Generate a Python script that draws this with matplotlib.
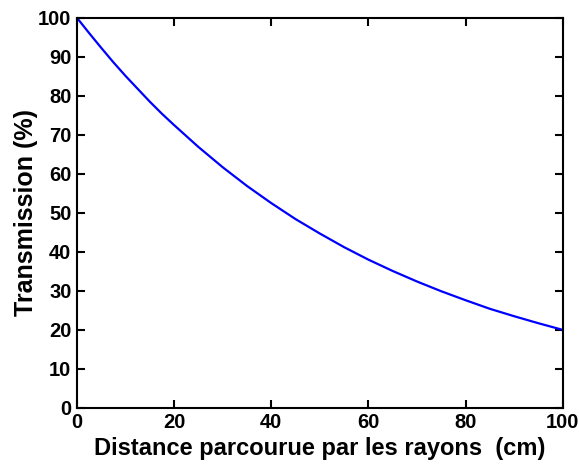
import matplotlib
matplotlib.use("Agg")
import matplotlib.pyplot as plt

# values
distance = [0, 2.5, 5, 7.5, 10, 12.5, 15, 17.5, 20, 25, 30, 35, 40, 45, 50,
            55, 60, 65, 70, 75, 80, 85, 90, 95, 100]
transmission = [100, 96.1, 92.3, 88.6, 85.1, 81.8, 78.5, 75.4, 72.5, 66.9, 61.7,
                56.9, 52.5, 48.4, 44.7, 41.2, 38.0, 35.1, 32.4, 29.9, 27.6,
                25.4, 23.5, 21.7, 20.0]

x_ticks = [0, 20, 40, 60, 80, 100]
y_ticks = [0, 10, 20, 30, 40, 50, 60, 70, 80, 90, 100]

plt.rcParams['font.family'] = ['Liberation Sans', 'DejaVu Sans']
plt.rcParams['font.weight'] = 'bold'

fig = plt.figure(figsize=(5.79, 4.71), dpi=100)
ax = fig.add_axes([0.133, 0.134, 0.839, 0.828])
ax.plot(distance, transmission, color='#0000ff', linewidth=1.6)

ax.set_xlim(0, 100)
ax.set_ylim(0, 100)
ax.set_xticks(x_ticks)
ax.set_yticks(y_ticks)
ax.tick_params(direction='in', top=True, right=True, length=6, width=1.5,
               labelsize=14.5, pad=4)
for lab in ax.get_xticklabels() + ax.get_yticklabels():
    lab.set_fontweight('bold')
for s in ax.spines.values():
    s.set_linewidth(1.5)

ax.set_xlabel("Distance parcourue par les rayons  (cm)", fontsize=17, fontweight='bold', labelpad=3)
ax.set_ylabel("Transmission (%)", fontsize=18, fontweight='bold', labelpad=0)

fig.savefig("out.png", dpi=100)
